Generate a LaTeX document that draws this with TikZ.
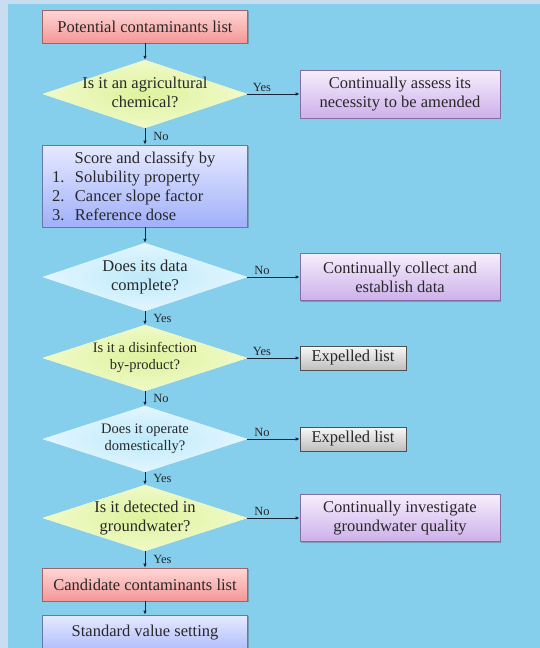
\documentclass[tikz,border=0pt]{standalone}
\usepackage{fontspec}
\setmainfont{Liberation Serif}
\usetikzlibrary{shapes.geometric,arrows.meta,shadows}
\definecolor{bgmain}{RGB}{133,206,236}
\definecolor{bgstrip}{RGB}{200,222,240}
\definecolor{txt}{RGB}{40,40,40}
\definecolor{pinkTop}{RGB}{255,215,215}
\definecolor{pinkBot}{RGB}{244,150,150}
\definecolor{pinkBorder}{RGB}{160,100,100}
\definecolor{purpTop}{RGB}{246,238,252}
\definecolor{purpBot}{RGB}{205,176,235}
\definecolor{purpBorder}{RGB}{130,110,160}
\definecolor{blueTop}{RGB}{230,234,255}
\definecolor{blueBot}{RGB}{160,176,250}
\definecolor{blueBorder}{RGB}{100,120,170}
\definecolor{grayTop}{RGB}{248,248,248}
\definecolor{grayBot}{RGB}{190,190,190}
\definecolor{grayBorder}{RGB}{80,80,80}
\definecolor{yelIn}{RGB}{222,242,158}
\definecolor{yelOut}{RGB}{240,250,200}
\definecolor{cyaIn}{RGB}{190,234,250}
\definecolor{cyaOut}{RGB}{226,246,255}
\definecolor{arrcol}{RGB}{25,35,55}
\newcommand{\dtext}[1]{\makebox[0pt]{\begin{tabular}{@{}c@{}}#1\end{tabular}}}
\begin{document}
\begin{tikzpicture}[x=1pt,y=-1pt,
  bigfont/.style={font=\fontsize{16.5}{19}\selectfont},
  smallfont/.style={font=\fontsize{14.5}{17}\selectfont},
  box/.style={rectangle, line width=0.6pt, text=txt, bigfont, align=center, inner sep=2pt,
    drop shadow={shadow xshift=1.2pt, shadow yshift=-1.2pt, opacity=0.35, fill=black!70}},
  pinkbox/.style={box, top color=pinkTop, bottom color=pinkBot, draw=pinkBorder},
  purpbox/.style={box, top color=purpTop, bottom color=purpBot, draw=purpBorder},
  bluebox/.style={box, top color=blueTop, bottom color=blueBot, draw=blueBorder},
  graybox/.style={box, top color=grayTop, bottom color=grayBot, draw=grayBorder},
  dia/.style={diamond, minimum width=204pt, inner sep=0pt, aspect=3, text=txt},
  yeldia/.style={dia, inner color=yelIn, outer color=yelOut, draw=yelOut, line width=0.5pt},
  cyadia/.style={dia, inner color=cyaIn, outer color=cyaOut, draw=cyaOut, line width=0.5pt},
  arr/.style={draw=arrcol, line width=0.8pt, -{Latex[length=4pt,width=3.5pt]}},
  lbl/.style={text=txt, font=\fontsize{12.5}{14}\selectfont, inner sep=1pt}
]
\useasboundingbox (0,0) rectangle (540,648);
\fill[bgstrip] (0,0) rectangle (540,648);
\fill[bgmain] (8,4) rectangle (540,648);
\begin{scope}
\clip (0,0) rectangle (540,648);
% left column
\node[pinkbox, minimum width=205pt, minimum height=33pt] (p1) at (145,26.5) {Potential contaminants list};
\node[yeldia, bigfont, minimum height=68pt] (d1) at (145,94) {\dtext{Is it an agricultural\\chemical?}};
\node[bluebox, minimum width=205pt, minimum height=82pt, inner sep=0pt] (sc) at (145,186)
  {\begin{minipage}{186pt}\centering Score and classify by\par\raggedright
   \makebox[23pt][l]{1.}Solubility property\\
   \makebox[23pt][l]{2.}Cancer slope factor\\
   \makebox[23pt][l]{3.}Reference dose\end{minipage}};
\node[cyadia, bigfont, minimum height=68pt] (d2) at (145,277) {\dtext{Does its data\\complete?}};
\node[yeldia, smallfont, minimum height=66pt] (d3) at (145,358) {\dtext{Is it a disinfection\\by-product?}};
\node[cyadia, smallfont, minimum height=66pt] (d4) at (145,439) {\dtext{Does it operate\\domestically?}};
\node[yeldia, bigfont, minimum height=66pt] (d5) at (145,518) {\dtext{Is it detected in\\groundwater?}};
\node[pinkbox, minimum width=205pt, minimum height=33pt] (cc) at (145,584.5) {Candidate contaminants list};
\node[bluebox, minimum width=205pt, minimum height=46pt, text depth=14pt] (sv) at (145,638) {Standard value setting};
% right column
\node[purpbox, minimum width=200pt, minimum height=48pt] (r1) at (400,94) {Continually assess its\\necessity to be amended};
\node[purpbox, minimum width=200pt, minimum height=47pt] (r2) at (400,277) {Continually collect and\\establish data};
\node[graybox, minimum width=106pt, minimum height=24pt] (e1) at (353,358) {Expelled list};
\node[graybox, minimum width=106pt, minimum height=24pt] (e2) at (353,439) {Expelled list};
\node[purpbox, minimum width=200pt, minimum height=47pt] (r3) at (400,518) {Continually investigate\\groundwater quality};
% connectors
\draw[arr] (p1) -- (d1);
\draw[arr] (d1) -- node[lbl, right, xshift=7pt] {No} (sc);
\draw[arr] (sc) -- (d2);
\draw[arr] (d2) -- node[lbl, right, xshift=7pt] {Yes} (d3);
\draw[arr] (d3) -- node[lbl, right, xshift=7pt] {No} (d4);
\draw[arr] (d4) -- node[lbl, right, xshift=7pt] {Yes} (d5);
\draw[arr] (d5) -- node[lbl, right, xshift=7pt] {Yes} (cc);
\draw[arr] (cc) -- (sv.north);
\draw[arr] (d1.east) -- node[lbl, above, pos=0.28, yshift=1pt] {Yes} (r1.west);
\draw[arr] (d2.east) -- node[lbl, above, pos=0.28, yshift=1pt] {No} (r2.west);
\draw[arr] (d3.east) -- node[lbl, above, pos=0.28, yshift=1pt] {Yes} (e1.west);
\draw[arr] (d4.east) -- node[lbl, above, pos=0.28, yshift=1pt] {No} (e2.west);
\draw[arr] (d5.east) -- node[lbl, above, pos=0.28, yshift=1pt] {No} (r3.west);
\end{scope}
\end{tikzpicture}
\end{document}
